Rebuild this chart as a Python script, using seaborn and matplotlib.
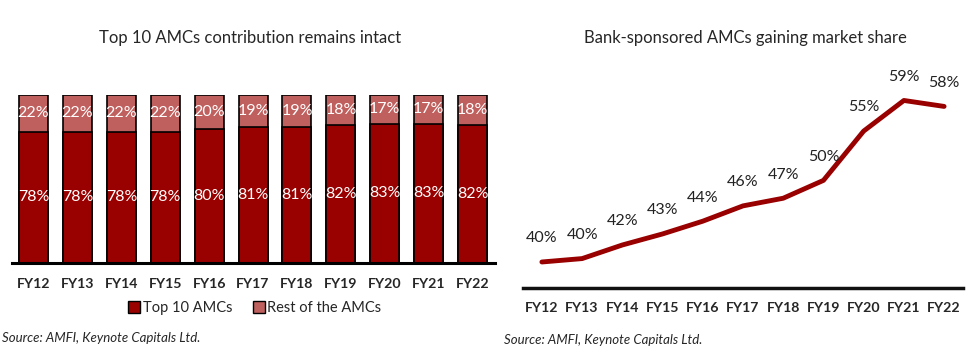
import numpy as np
import pandas as pd
import seaborn as sns
from matplotlib import pyplot as plt
from matplotlib.patches import Patch

years = ['FY12', 'FY13', 'FY14', 'FY15', 'FY16', 'FY17', 'FY18', 'FY19', 'FY20', 'FY21', 'FY22']
top10 = [78, 78, 78, 78, 80, 81, 81, 82, 83, 83, 82]
rest = [22, 22, 22, 22, 20, 19, 19, 18, 17, 17, 18]
bank_share = [40, 40.4, 42, 43.3, 44.8, 46.6, 47.5, 49.6, 55.4, 59, 58.3]
bank_labels = ['40%', '40%', '42%', '43%', '44%', '46%', '47%', '50%', '55%', '59%', '58%']

dark_red = '#990000'
light_red = '#C0605E'

sns.set_theme(style='white')
plt.rcParams['font.family'] = ['Lato', 'DejaVu Sans']

df = pd.DataFrame({'year': years, 'top10': top10, 'rest': rest, 'bank': bank_share})
df['total'] = df['top10'] + df['rest']

fig = plt.figure(figsize=(9.76, 3.58), dpi=100)
W, H = 976, 358

def px_axes(x0, y0, x1, y1):
    return fig.add_axes([x0 / W, 1 - y1 / H, (x1 - x0) / W, (y1 - y0) / H])

# left: stacked bars (full 100% in light red, top 10 drawn over it)
ax1 = px_axes(12, 95, 495, 263)
sns.barplot(data=df, x='year', y='total', color=light_red, saturation=1, width=0.66,
            edgecolor='black', linewidth=1.2, ax=ax1)
sns.barplot(data=df, x='year', y='top10', color=dark_red, saturation=1, width=0.66,
            edgecolor='black', linewidth=1.2, ax=ax1)
for i, (t, r) in enumerate(zip(top10, rest)):
    ax1.text(i, t / 2, f'{t}%', ha='center', va='center', color='white', fontsize=11.5)
    ax1.text(i, t + r / 2, f'{r}%', ha='center', va='center', color='white', fontsize=11.5)
ax1.set_xlim(-0.49, 10.51)
ax1.set_ylim(0, 100)
ax1.set_xlabel('')
ax1.set_ylabel('')
ax1.set_yticks([])
for s in ['top', 'left', 'right']:
    ax1.spines[s].set_visible(False)
ax1.spines['bottom'].set_color('black')
ax1.spines['bottom'].set_linewidth(2.2)
ax1.tick_params(axis='x', length=0, pad=11)
for lab in ax1.get_xticklabels():
    lab.set_fontweight('bold')
    lab.set_fontsize(10.2)

handles = [Patch(facecolor=dark_red, edgecolor='black', label='Top 10 AMCs'),
           Patch(facecolor=light_red, edgecolor='black', label='Rest of the AMCs')]
fig.legend(handles=handles, loc='center', bbox_to_anchor=(255 / W, 1 - 308 / H), ncol=2,
           frameon=False, fontsize=10.5, handlelength=0.8, handleheight=0.8,
           handletextpad=0.2, columnspacing=1.4)

fig.text(250 / W, 1 - 38 / H, 'Top 10 AMCs contribution remains intact', ha='center', va='center', fontsize=12)

# right: line
ax2 = px_axes(523, 60, 963, 288)
sns.lineplot(data=df, x='year', y='bank', color=dark_red, linewidth=3.5, sort=False, ax=ax2)
for i, (v, lab) in enumerate(zip(bank_share, bank_labels)):
    ax2.annotate(lab, (i, v), xytext=(0, 17), textcoords='offset points', ha='center',
                 va='center', fontsize=11.5, color='#222222')
ax2.set_xlim(-0.47, 10.47)
ax2.set_ylim(36.94, 63.76)
ax2.set_xlabel('')
ax2.set_ylabel('')
ax2.set_yticks([])
for s in ['top', 'left', 'right']:
    ax2.spines[s].set_visible(False)
ax2.spines['bottom'].set_color('#111111')
ax2.spines['bottom'].set_linewidth(2.5)
ax2.tick_params(axis='x', length=0, pad=10)
for lab in ax2.get_xticklabels():
    lab.set_fontweight('bold')
    lab.set_fontsize(10.2)

fig.text(745 / W, 1 - 38 / H, 'Bank-sponsored AMCs gaining market share', ha='center', va='center', fontsize=12)

fig.text(2 / W, 1 - 338 / H, 'Source: AMFI, Keynote Capitals Ltd.', ha='left', va='center',
         fontsize=9.5, style='italic')
fig.text(504 / W, 1 - 340 / H, 'Source: AMFI, Keynote Capitals Ltd.', ha='left', va='center',
         fontsize=9.5, style='italic')

fig.savefig('out.png', dpi=100)
